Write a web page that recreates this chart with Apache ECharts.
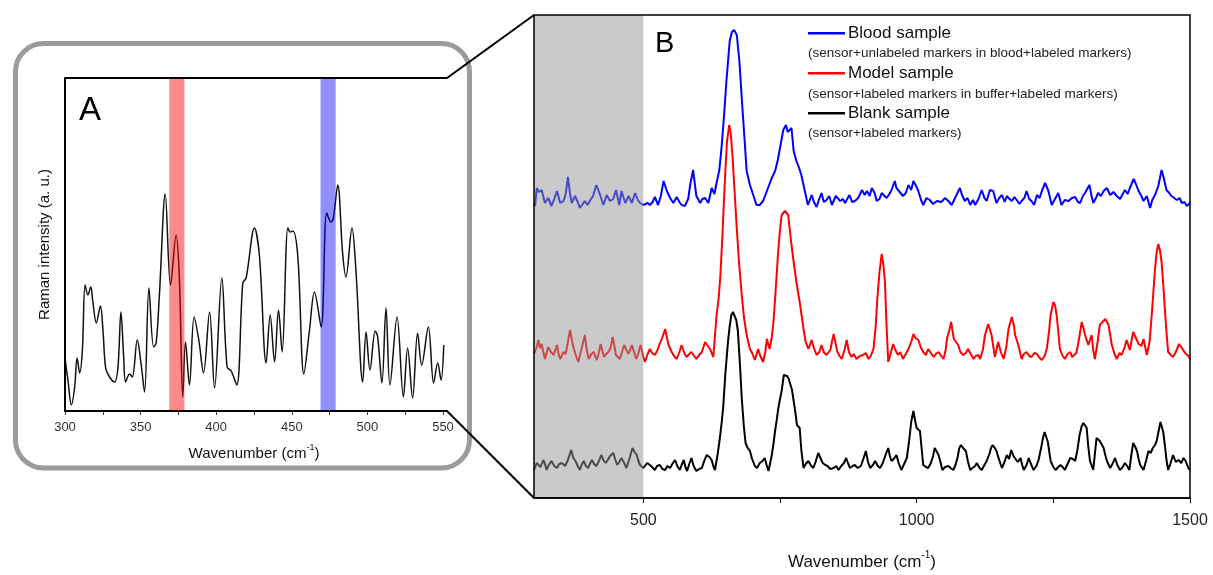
<!DOCTYPE html>
<html>
<head>
<meta charset="utf-8">
<title>Raman spectra</title>
<script src="https://cdn.jsdelivr.net/npm/echarts@6/dist/echarts.min.js"></script>
<style>
  html, body { margin: 0; padding: 0; background: #fff; }
  #chart { width: 1213px; height: 575px; }
</style>
</head>
<body>
<div id="chart"></div>
<script>
// ---- Panel A: zoomed low-wavenumber region (wavenumber, intensity) ----
const zoomSpectrum = [
  [300,53],[302,30],[304.2,6],[306.4,24],[308,53],[309.7,38],[311.5,61],[313.3,126],[315.2,116],[317,124],
  [318.5,108],[320.7,88],[323.4,105],[325.1,81],[326.9,43],[329.5,34],[332.8,29],[335,43],[337,99],[338.8,54],
  [340.1,29],[342.7,37],[344.5,34],[347.8,71],[350.4,46],[352.6,19],[355.5,123],[358.6,64],[360.3,68],[362.5,118],
  [366.3,217],[369.8,126],[373.5,176],[375.7,131],[377.9,14],[379.7,69],[382.3,26],[385.4,94],[388.5,71],[391.6,38],
  [395.6,99],[398.9,23],[403.7,133],[407.2,44],[409.9,40],[413.6,26],[417.6,128],[419.8,133],[425.3,183],[428.6,155],
  [433,48],[435.7,96],[438.6,49],[441.2,101],[443.6,59],[447.4,183],[448.9,179],[450.7,180],[454,154],[458,37],
  [461.7,81],[465,119],[469.4,84],[473.1,198],[476,189],[477.5,193],[480.4,226],[483.6,158],[485.8,134],[489.8,183],
  [492.4,141],[496.9,29],[499.1,79],[501.7,41],[505.2,80],[506.8,74],[509.6,28],[512.3,103],[514.9,26],[519.6,94],
  [523.8,14],[526.6,63],[529.9,13],[533.2,78],[535.9,46],[540.3,84],[543.8,28],[546.5,48],[548.7,31],[550.5,66]
];
const redBand = [369, 379];
const blueBand = [469, 479];
const zoomTicks = [300, 325, 350, 375, 400, 425, 450, 475, 500, 525, 550];
const zoomLabels = [300, 350, 400, 450, 500, 550];

// ---- Panel B: full spectra, intensity above each trace's own baseline ----
const bloodSpectrum = [
  [300,5],[302,2],[305,20],[309,16],[314,18],[320,5],[326,10],[332,2],[337,9],[342,17],[348,5],[354,7],[358,14],[362,31],[366,14],[369,5],[375,12],[380,6],[384,0],[389,4],
  [393,7],[398,3],[402,7],[408,12],[414,23],[421,13],[427,3],[433,13],[439,7],[445,9],[450,18],[456,3],[460,17],[467,5],[473,12],[479,5],[485,15],[490,8],[494,5],[500,3],
  [503,1],[508,5],[512,3],[517,6],[521,11],[527,3],[532,12],[537,27],[543,17],[549,10],[555,5],[561,11],[566,6],[570,3],[576,2],[582,9],[586,24],[591,38],[597,12],[604,5],
  [608,9],[613,10],[619,5],[625,20],[630,14],[634,25],[639,38],[643,60],[648,95],[652,127],[658,167],[662,176],[666,178],[671,173],[676,145],[680,110],[685,70],[689,37],[695,23],[701,13],
  [707,3],[713,3],[719,7],[724,14],[728,20],[735,30],[741,37],[746,48],[750,60],[756,78],[761,83],[764,76],[767,78],[771,80],[775,57],[780,47],[785,40],[789,33],[795,18],[801,3],
  [808,13],[812,6],[817,1],[821,8],[826,15],[830,6],[835,8],[840,12],[845,3],[852,12],[860,7],[865,9],[869,5],[877,13],[882,6],[887,7],[893,10],[900,18],[905,13],[909,17],
  [914,12],[918,20],[923,15],[927,7],[932,9],[936,15],[945,10],[950,14],[954,18],[960,27],[963,20],[966,22],[975,12],[980,15],[985,23],[990,18],[994,27],[999,22],[1003,17],[1008,8],
  [1012,3],[1018,10],[1024,8],[1030,4],[1037,7],[1045,6],[1052,10],[1058,7],[1064,3],[1072,12],[1079,20],[1083,13],[1088,7],[1093,10],[1098,3],[1103,8],[1107,3],[1113,9],[1119,18],[1124,10],
  [1128,7],[1134,18],[1140,17],[1146,5],[1151,10],[1156,13],[1161,6],[1165,12],[1170,9],[1174,7],[1179,11],[1183,8],[1188,4],[1192,7],[1197,10],[1201,17],[1206,9],[1210,7],[1215,3],[1220,13],
  [1225,10],[1229,17],[1235,25],[1241,17],[1247,3],[1253,9],[1259,15],[1265,3],[1271,8],[1278,7],[1284,10],[1290,11],[1295,6],[1299,5],[1304,12],[1308,15],[1316,23],[1320,12],[1323,5],[1328,10],
  [1332,15],[1337,12],[1342,17],[1348,20],[1354,13],[1360,16],[1366,12],[1372,9],[1375,7],[1381,18],[1386,14],[1390,20],[1397,29],[1401,24],[1406,17],[1411,12],[1415,7],[1421,12],[1427,0],[1431,8],
  [1436,13],[1442,22],[1448,38],[1452,30],[1457,18],[1462,15],[1466,12],[1471,10],[1476,8],[1481,10],[1485,5],[1490,6],[1494,2],[1500,5]
];
const modelSpectrum = [
  [300,8],[302,10],[305,15],[308,22],[311,14],[314,18],[317,10],[320,3],[323,9],[326,15],[331,10],[336,7],[342,17],[345,8],[348,3],[354,10],[358,8],[361,17],[366,32],[370,20],
  [373,13],[377,6],[381,0],[387,13],[393,27],[396,14],[400,3],[405,8],[409,10],[415,2],[418,8],[422,18],[428,5],[432,8],[436,10],[440,14],[444,25],[450,7],[457,3],[461,10],
  [465,17],[469,12],[473,8],[479,17],[483,10],[487,3],[491,9],[495,17],[500,5],[503,0],[508,8],[512,13],[516,9],[521,7],[526,12],[530,18],[535,25],[540,33],[546,17],[552,10],
  [556,6],[561,3],[566,10],[570,17],[575,9],[579,5],[584,8],[588,10],[593,6],[597,3],[602,7],[607,10],[613,20],[618,16],[622,13],[628,5],[634,47],[638,65],[641,87],[645,130],
  [649,180],[653,220],[657,237],[660,228],[663,207],[667,170],[671,133],[675,100],[680,67],[684,45],[689,27],[695,13],[699,9],[704,2],[710,13],[714,6],[719,0],[723,10],[726,23],[731,13],
  [735,25],[738,40],[741,63],[744,88],[747,113],[750,132],[753,147],[759,151],[765,147],[768,132],[771,117],[775,100],[780,80],[783,70],[786,60],[790,45],[793,33],[797,20],[802,13],[808,22],
  [812,14],[817,7],[822,10],[826,17],[830,10],[835,7],[842,12],[848,28],[855,10],[859,6],[863,3],[868,12],[872,22],[876,10],[881,5],[885,8],[890,3],[896,6],[902,7],[907,9],
  [912,3],[916,6],[921,13],[925,35],[928,63],[932,90],[936,108],[939,98],[942,80],[945,35],[948,0],[952,8],[957,18],[961,12],[966,7],[970,10],[975,3],[980,8],[985,13],[990,20],
  [994,28],[998,24],[1003,22],[1008,14],[1012,10],[1017,7],[1021,13],[1026,9],[1031,5],[1035,8],[1040,10],[1045,6],[1049,3],[1053,12],[1056,25],[1060,32],[1063,40],[1068,23],[1072,20],[1076,17],
  [1080,10],[1085,7],[1090,9],[1094,13],[1099,8],[1104,3],[1108,6],[1113,7],[1116,3],[1121,12],[1125,27],[1131,38],[1137,27],[1143,5],[1146,12],[1149,20],[1154,10],[1159,3],[1164,15],[1168,33],
  [1174,45],[1178,36],[1180,27],[1186,17],[1192,3],[1196,8],[1201,10],[1206,6],[1210,5],[1215,9],[1220,8],[1225,4],[1229,2],[1234,6],[1238,13],[1242,30],[1245,47],[1250,60],[1253,57],[1256,47],
  [1260,25],[1262,13],[1267,6],[1271,3],[1276,8],[1281,10],[1284,5],[1288,7],[1292,9],[1296,20],[1302,40],[1305,34],[1308,27],[1314,17],[1320,27],[1323,12],[1326,3],[1331,20],[1335,37],[1340,40],
  [1345,43],[1348,40],[1351,37],[1357,17],[1362,8],[1366,3],[1371,9],[1375,7],[1380,14],[1384,22],[1390,12],[1396,30],[1401,24],[1406,18],[1411,16],[1415,23],[1421,7],[1426,20],[1430,47],[1433,70],
  [1436,93],[1439,110],[1442,118],[1445,112],[1448,100],[1451,78],[1454,53],[1457,30],[1460,10],[1465,7],[1469,5],[1474,10],[1480,18],[1484,15],[1487,13],[1491,9],[1494,10],[1497,6],[1500,3]
];
const blankSpectrum = [
  [300,2],[302,4],[305,9],[308,7],[312,5],[317,12],[320,8],[323,2],[327,7],[332,11],[337,6],[342,4],[346,8],[351,9],[357,6],[362,12],[368,22],[372,14],[376,11],[380,6],
  [384,2],[387,7],[391,11],[395,6],[399,4],[403,9],[406,12],[410,8],[414,6],[418,10],[423,17],[427,12],[431,9],[435,12],[439,16],[445,19],[449,12],[452,7],[456,10],[460,14],
  [465,9],[469,4],[474,12],[480,24],[484,20],[488,17],[491,11],[494,7],[500,4],[503,4],[507,9],[512,7],[516,5],[521,2],[525,6],[530,7],[535,3],[540,2],[544,6],[549,4],
  [553,8],[558,12],[562,6],[567,2],[570,7],[574,12],[577,5],[580,1],[584,8],[588,14],[592,6],[597,1],[602,3],[607,4],[612,12],[616,17],[621,15],[625,12],[628,6],[631,2],
  [636,18],[640,34],[643,48],[646,64],[650,98],[655,131],[658,146],[661,157],[664,160],[667,161],[670,152],[673,141],[677,105],[680,74],[684,45],[687,29],[691,24],[695,21],[699,13],[704,6],
  [708,4],[713,9],[718,11],[722,14],[726,6],[729,1],[735,17],[738,28],[741,41],[744,52],[747,64],[750,73],[753,81],[757,97],[760,96],[763,96],[766,93],[769,92],[772,82],[775,71],
  [778,60],[781,47],[786,44],[789,22],[793,4],[797,8],[802,11],[806,7],[811,4],[815,10],[820,19],[824,14],[828,9],[833,7],[837,6],[842,3],[848,4],[853,6],[857,2],[862,6],
  [867,9],[871,14],[875,8],[878,4],[883,6],[887,7],[892,4],[898,6],[903,14],[907,21],[911,10],[915,4],[920,7],[924,11],[929,6],[933,4],[938,9],[943,17],[948,24],[951,16],
  [954,11],[958,13],[963,17],[967,9],[972,2],[977,8],[982,14],[986,30],[990,50],[994,61],[997,52],[1000,44],[1003,42],[1006,41],[1009,24],[1012,7],[1017,5],[1021,4],[1026,9],[1030,16],
  [1033,24],[1037,20],[1040,17],[1044,9],[1047,2],[1052,5],[1058,6],[1062,4],[1067,2],[1071,7],[1075,15],[1078,24],[1081,27],[1085,24],[1090,21],[1094,10],[1098,2],[1102,4],[1107,6],[1110,9],
  [1115,4],[1119,2],[1124,7],[1128,11],[1133,18],[1136,24],[1139,27],[1143,24],[1146,21],[1151,12],[1156,4],[1160,9],[1165,17],[1169,13],[1173,22],[1177,16],[1180,14],[1185,10],[1190,14],[1193,7],
  [1196,2],[1201,7],[1205,14],[1209,8],[1214,2],[1219,6],[1223,12],[1228,25],[1231,34],[1234,40],[1237,41],[1240,30],[1245,11],[1250,5],[1254,2],[1259,5],[1263,7],[1267,5],[1271,2],[1276,8],
  [1281,14],[1286,13],[1290,11],[1294,22],[1298,37],[1302,46],[1305,49],[1308,47],[1311,44],[1314,25],[1317,11],[1323,2],[1326,18],[1329,34],[1332,33],[1335,31],[1339,27],[1342,24],[1345,17],[1348,11],
  [1354,4],[1358,8],[1363,14],[1367,7],[1372,2],[1377,5],[1381,9],[1385,6],[1389,2],[1393,18],[1396,29],[1400,25],[1403,21],[1406,13],[1409,7],[1415,2],[1420,12],[1424,21],[1428,19],[1432,24],
  [1436,27],[1439,31],[1443,42],[1446,50],[1448,52],[1451,40],[1454,27],[1457,12],[1460,2],[1464,8],[1469,17],[1474,10],[1479,12],[1484,9],[1488,14],[1492,11],[1497,4],[1500,2]
];
// vertical offsets used to stack the three traces
const bloodOffset = 290;
const modelOffset = 136;
const blankOffset = 26;
const greyRange = [300, 500];
const fullLabels = [500, 1000, 1500];
const fullTicks = [500, 750, 1000, 1250, 1500];

const legendItems = [
  { name: 'Blood sample', note: '(sensor+unlabeled markers in blood+labeled markers)', color: '#0000ff' },
  { name: 'Model sample', note: '(sensor+labeled markers in buffer+labeled markers)', color: '#ff0000' },
  { name: 'Blank sample', note: '(sensor+labeled markers)', color: '#000000' }
];

const FONT = '"Liberation Sans", Arial, sans-serif';

function shift(spec, off) { return spec.map(p => [p[0], p[1] + off]); }
function plain(v) { return String(v); }

// shaded vertical band spanning the full plot height
function bandRenderer(fill) {
  return function (params, api) {
    const a = api.coord([api.value(0), 0]);
    const b = api.coord([api.value(1), 0]);
    const cs = params.coordSys;
    return {
      type: 'rect',
      shape: { x: a[0], y: cs.y, width: b[0] - a[0], height: cs.height },
      style: { fill: fill }
    };
  };
}

const chart = echarts.init(document.getElementById('chart'), null, { renderer: 'canvas' });

const graphics = [
  { type: 'rect', z: 1, shape: { x: 15.5, y: 43.5, width: 454, height: 424.5, r: 28 },
    style: { fill: 'none', stroke: '#9b9b9b', lineWidth: 5 } },
  { type: 'polyline', z: 50, shape: { points: [[65, 78], [447, 78], [534, 15]] },
    style: { fill: 'none', stroke: '#000', lineWidth: 2 } },
  { type: 'polyline', z: 50, shape: { points: [[443, 411], [447, 411], [534, 498]] },
    style: { fill: 'none', stroke: '#000', lineWidth: 2 } },
  { type: 'text', z: 50, x: 79, y: 110.5, style: { text: 'A', font: '33px ' + FONT, fill: '#000', verticalAlign: 'middle' } },
  { type: 'text', z: 50, x: 655, y: 44, style: { text: 'B', font: '29px ' + FONT, fill: '#000', verticalAlign: 'middle' } }
];
const legendRows = [33.3, 73.3, 113.3];
const noteRows = [53.3, 94.3, 133.3];
legendItems.forEach((it, i) => {
  graphics.push({ type: 'line', z: 50, shape: { x1: 808, y1: legendRows[i], x2: 845, y2: legendRows[i] },
    style: { stroke: it.color, lineWidth: 2.5 } });
  graphics.push({ type: 'text', z: 50, x: 848, y: legendRows[i],
    style: { text: it.name, font: '17px ' + FONT, fill: '#111', verticalAlign: 'middle' } });
  graphics.push({ type: 'text', z: 50, x: 808, y: noteRows[i],
    style: { text: it.note, font: '13.5px ' + FONT, fill: '#222', verticalAlign: 'middle' } });
});

const option = {
  animation: false,
  backgroundColor: '#fff',
  textStyle: { fontFamily: FONT },
  grid: [
    { left: 65, top: 78, width: 378, height: 333, outerBoundsMode: 'none', containLabel: false },
    { left: 534, top: 15, width: 656, height: 483, show: true, z: 30,
      outerBoundsMode: 'none', containLabel: false,
      borderColor: '#000', borderWidth: 1.5, backgroundColor: 'transparent' }
  ],
  xAxis: [
    {
      gridIndex: 0, type: 'value', min: 300, max: 550, z: 20,
      axisLine: { show: true, onZero: false, lineStyle: { color: '#000', width: 2 } },
      axisTick: { show: true, length: 4, customValues: zoomTicks, lineStyle: { color: '#333', width: 1 } },
      axisLabel: { customValues: zoomLabels, formatter: plain, fontSize: 13, color: '#333', margin: 10 },
      splitLine: { show: false },
      name: 'Wavenumber (cm{sup|-1})', nameLocation: 'middle', nameGap: 32,
      nameTextStyle: { fontSize: 15, color: '#111', lineHeight: 22,
        rich: { sup: { fontSize: 9, lineHeight: 10, verticalAlign: 'top', color: '#111' } } }
    },
    {
      gridIndex: 1, type: 'value', min: 300, max: 1500, z: 20,
      axisLine: { show: true, onZero: false, lineStyle: { color: '#000', width: 1.5 } },
      axisTick: { show: true, length: 5, customValues: fullTicks, lineStyle: { color: '#000', width: 1 } },
      axisLabel: { customValues: fullLabels, formatter: plain, fontSize: 16, color: '#222', margin: 15 },
      splitLine: { show: false },
      name: 'Wavenumber (cm{sup|-1})', nameLocation: 'middle', nameGap: 52,
      nameTextStyle: { fontSize: 17, color: '#111', lineHeight: 25,
        rich: { sup: { fontSize: 10, lineHeight: 11, verticalAlign: 'top', color: '#111' } } }
    }
  ],
  yAxis: [
    {
      gridIndex: 0, type: 'value', min: 0, max: 333, z: 20,
      axisLine: { show: true, onZero: false, lineStyle: { color: '#000', width: 2 } },
      axisTick: { show: false }, axisLabel: { show: false }, splitLine: { show: false },
      name: 'Raman intensity (a. u.)', nameLocation: 'middle', nameGap: 13,
      nameTextStyle: { fontSize: 15, color: '#111' }
    },
    {
      gridIndex: 1, type: 'value', min: 0, max: 483,
      axisLine: { show: false }, axisTick: { show: false }, axisLabel: { show: false }, splitLine: { show: false }
    }
  ],
  series: [
    {
      type: 'line', xAxisIndex: 0, yAxisIndex: 0, data: zoomSpectrum, z: 2,
      symbol: 'none', smooth: 0.35, lineStyle: { color: '#111', width: 1.5 }
    },
    {
      type: 'custom', xAxisIndex: 0, yAxisIndex: 0, z: 5, data: [redBand],
      encode: { x: [0, 1] }, renderItem: bandRenderer('rgba(255,0,0,0.46)'), silent: true
    },
    {
      type: 'custom', xAxisIndex: 0, yAxisIndex: 0, z: 5, data: [blueBand],
      encode: { x: [0, 1] }, renderItem: bandRenderer('rgba(0,0,255,0.44)'), silent: true
    },
    {
      name: 'Blood sample', type: 'line', xAxisIndex: 1, yAxisIndex: 1, z: 2,
      data: shift(bloodSpectrum, bloodOffset), symbol: 'none',
      lineStyle: { color: '#0000ff', width: 2 }
    },
    {
      name: 'Model sample', type: 'line', xAxisIndex: 1, yAxisIndex: 1, z: 2,
      data: shift(modelSpectrum, modelOffset), symbol: 'none',
      lineStyle: { color: '#ff0000', width: 2 }
    },
    {
      name: 'Blank sample', type: 'line', xAxisIndex: 1, yAxisIndex: 1, z: 2,
      data: shift(blankSpectrum, blankOffset), symbol: 'none',
      lineStyle: { color: '#000000', width: 2 }
    },
    {
      type: 'custom', xAxisIndex: 1, yAxisIndex: 1, z: 5, data: [greyRange],
      encode: { x: [0, 1] }, renderItem: bandRenderer('rgba(150,150,150,0.5)'), silent: true
    }
  ],
  graphic: graphics
};

chart.setOption(option);
</script>
</body>
</html>
